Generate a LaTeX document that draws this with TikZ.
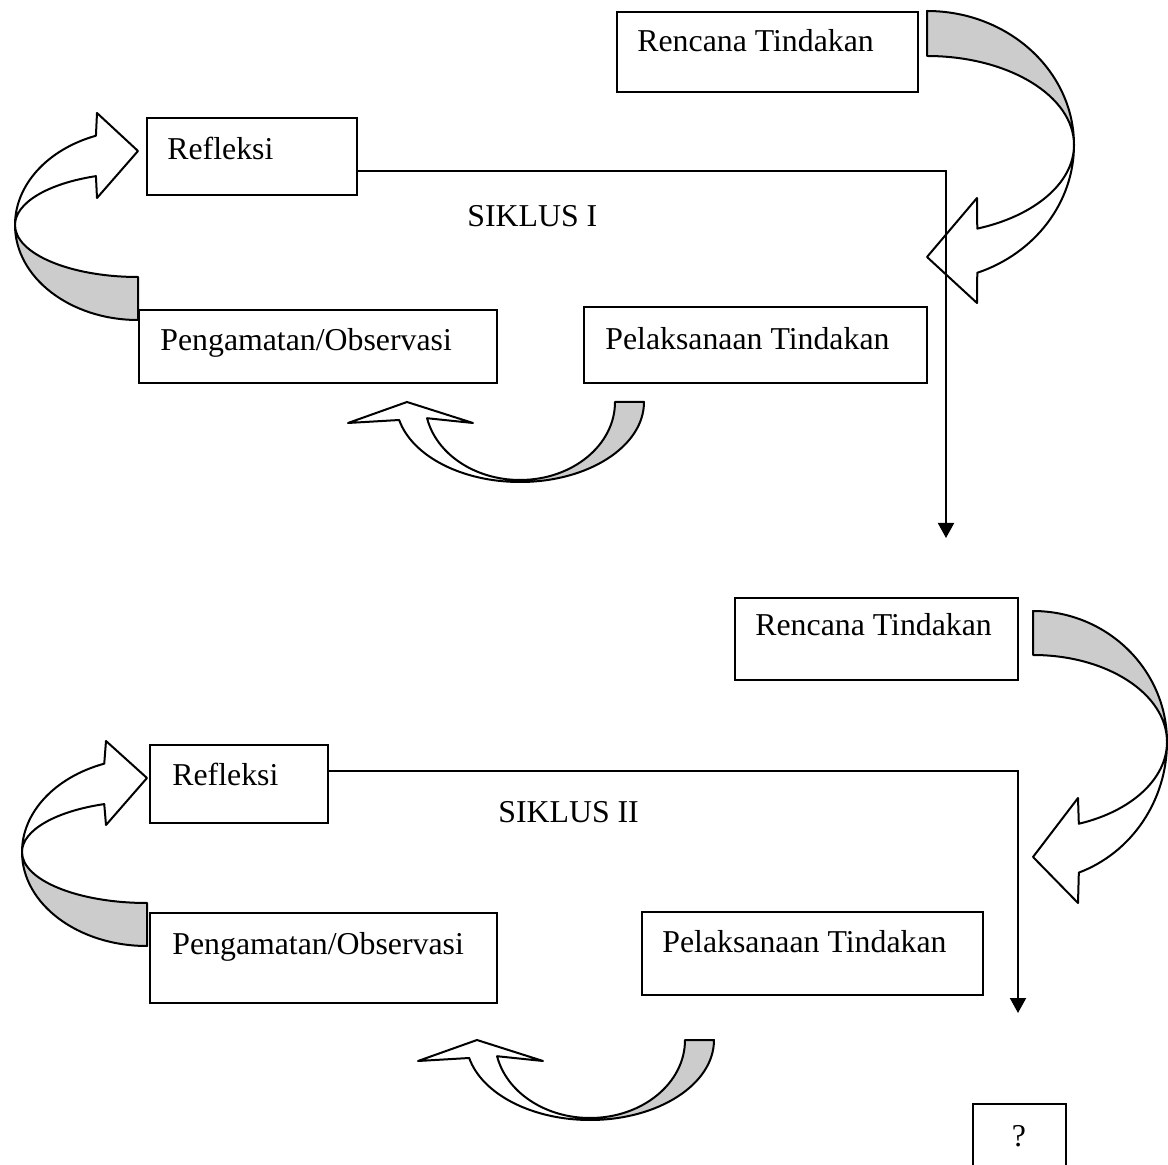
\documentclass[tikz,border=0pt]{standalone}
\usepackage{fontspec}
\setmainfont{Liberation Serif}
\usetikzlibrary{arrows.meta,fit}
\definecolor{band}{RGB}{204,204,204}
\begin{document}
\begin{tikzpicture}[x=0.5pt,y=-0.5pt,
  box/.style={draw,line width=1pt,rectangle,inner sep=0pt},
  lbl/.style={inner sep=0pt,anchor=base west,font=\fontsize{15.9}{19}\selectfont},
  conn/.style={line width=1pt,-{Triangle[length=7.5pt,width=8pt]}},
  rib/.style={draw,line width=1pt,line join=round}]
\useasboundingbox (0,0) rectangle (1168,1165);
\clip (0,0) rectangle (1168,1165);

% ---------- SIKLUS I ----------
\node[box,fit={(617,12) (918,92)}] (ren1) {};
\node[box,fit={(147,118) (357,195)}] (ref1) {};
\node[box,fit={(139,310) (497,383)}] (pen1) {};
\node[box,fit={(584,307) (927,383)}] (pel1) {};
\node[lbl] (tren1) at (637,52) {Rencana Tindakan};
\node[lbl] (tref1) at (167,160) {Refleksi};
\node[lbl] (tpen1) at (160,351) {Pengamatan/Observasi};
\node[lbl] (tpel1) at (605,350) {Pelaksanaan Tindakan};
\node[lbl] (sik1) at (467,227) {SIKLUS I};

% right ribbon arrow
\begin{scope}[shift={(927,145)}]
\filldraw[rib,fill=band] (-90:147 and 134) arc[start angle=-90,end angle=0,x radius=147,y radius=134]
  arc[start angle=0,end angle=-90,x radius=147,y radius=89] -- cycle;
\filldraw[rib,fill=white] (0:147 and 89) arc[start angle=0,end angle=70,x radius=147,y radius=89]
  -- (50,53) -- (0,112) -- (50,158) -- (70:147 and 136)
  arc[start angle=70,end angle=0,x radius=147,y radius=136] -- cycle;
\end{scope}
% left ribbon arrow
\begin{scope}[shift={(138,225)}]
\filldraw[rib,fill=band] (90:123 and 95) arc[start angle=90,end angle=180,x radius=123,y radius=95]
  arc[start angle=180,end angle=90,x radius=123,y radius=52] -- cycle;
\filldraw[rib,fill=white] (180:123 and 52) arc[start angle=180,end angle=250,x radius=123,y radius=52]
  -- (-41,-27) -- (0,-74) -- (-41,-112) -- (250:123 and 95)
  arc[start angle=250,end angle=180,x radius=123,y radius=95] -- cycle;
\end{scope}
% bottom ribbon arrow
\begin{scope}[shift={(520,402)}]
\filldraw[rib,fill=band] (0:124 and 80) arc[start angle=0,end angle=90,x radius=124,y radius=80]
  -- (90:95 and 78) arc[start angle=90,end angle=0,x radius=95,y radius=78] -- cycle;
\filldraw[rib,fill=white] (90:124 and 80) arc[start angle=90,end angle=167,x radius=124,y radius=80]
  -- (-172,21) -- (-113,0) -- (-47,21) -- (168:95 and 78)
  arc[start angle=168,end angle=90,x radius=95,y radius=78] -- cycle;
\end{scope}

\coordinate (end1) at (946,538);
\draw[conn] ([yshift=-7.25pt]ref1.east) -| (end1);

% ---------- SIKLUS II ----------
\node[box,fit={(735,598) (1018,680)}] (ren2) {};
\node[box,fit={(150,745) (328,823)}] (ref2) {};
\node[box,fit={(150,913) (497,1003)}] (pen2) {};
\node[box,fit={(642,912) (983,995)}] (pel2) {};
\node[lbl] (tren2) at (755,636) {Rencana Tindakan};
\node[lbl] (tref2) at (172,785) {Refleksi};
\node[lbl] (tpen2) at (172,954) {Pengamatan/Observasi};
\node[lbl] (tpel2) at (662,952) {Pelaksanaan Tindakan};
\node[lbl] (sik2) at (498,822) {SIKLUS II};

\begin{scope}[shift={(1033,742)}]
\filldraw[rib,fill=band] (-90:134 and 131) arc[start angle=-90,end angle=0,x radius=134,y radius=131]
  arc[start angle=0,end angle=-90,x radius=134,y radius=87] -- cycle;
\filldraw[rib,fill=white] (0:134 and 87) arc[start angle=0,end angle=70,x radius=134,y radius=87]
  -- (45,56) -- (0,115) -- (45,161) -- (70:134 and 139)
  arc[start angle=70,end angle=0,x radius=134,y radius=139] -- cycle;
\end{scope}
\begin{scope}[shift={(147,852)}]
\filldraw[rib,fill=band] (90:125 and 94) arc[start angle=90,end angle=180,x radius=125,y radius=94]
  arc[start angle=180,end angle=90,x radius=125,y radius=51] -- cycle;
\filldraw[rib,fill=white] (180:125 and 51) arc[start angle=180,end angle=250,x radius=125,y radius=51]
  -- (-41,-27) -- (0,-74) -- (-41,-111) -- (250:125 and 94)
  arc[start angle=250,end angle=180,x radius=125,y radius=94] -- cycle;
\end{scope}
\begin{scope}[shift={(590,1040)}]
\filldraw[rib,fill=band] (0:124 and 80) arc[start angle=0,end angle=90,x radius=124,y radius=80]
  -- (90:95 and 78) arc[start angle=90,end angle=0,x radius=95,y radius=78] -- cycle;
\filldraw[rib,fill=white] (90:124 and 80) arc[start angle=90,end angle=167,x radius=124,y radius=80]
  -- (-172,21) -- (-113,0) -- (-47,21) -- (168:95 and 78)
  arc[start angle=168,end angle=90,x radius=95,y radius=78] -- cycle;
\end{scope}

\coordinate (end2) at (1018,1013);
\draw[conn] ([yshift=6.5pt]ref2.east) -| (end2);

\node[box,fit={(973,1104) (1066,1185)}] (q) {};
\node[lbl,anchor=base] (tq) at (1019,1146) {?};
\end{tikzpicture}
\end{document}
